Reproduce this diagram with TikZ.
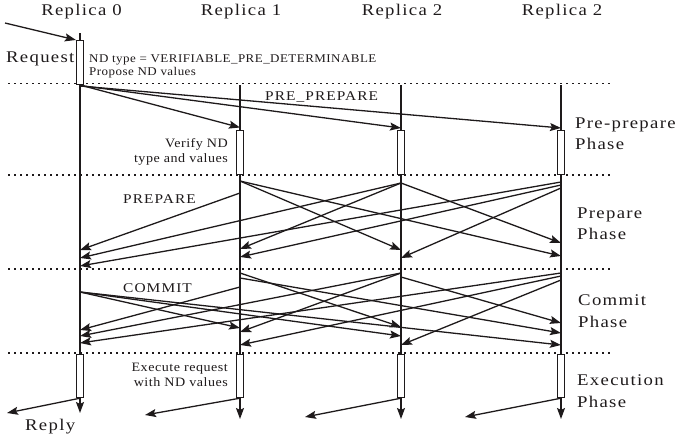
\documentclass[tikz,border=0pt]{standalone}
\usepackage{fontspec}
\setmainfont{Liberation Serif}
\newfontfamily\bigfont[LetterSpace=8,FakeStretch=1.15]{Liberation Serif}
\newfontfamily\notefont[LetterSpace=4,FakeStretch=1.1]{Liberation Serif}
\usetikzlibrary{arrows.meta}
\definecolor{ink}{RGB}{30,26,27}
\newcommand\msgline[4]{\draw[msg] (#1 |- 0,#2) -- (#3 |- 0,#4);}
\begin{document}
\begin{tikzpicture}[x=1pt,y=-1pt,
  life/.style={line width=1.3pt, draw=ink},
  msg/.style={line width=1.3pt, draw=ink, -{Stealth[length=11pt,width=8pt,inset=2pt]}},
  actbox/.style={draw=ink, fill=white, line width=1.2pt, minimum width=7pt, minimum height=43.5pt, inner sep=0pt, anchor=north},
  phasesep/.style={line width=1.5pt, dash pattern=on 1.5pt off 4.5pt, draw=ink},
  biglbl/.style={font=\bigfont\fontsize{16.3}{19}\selectfont, inner sep=0pt, text=ink},
  midlbl/.style={font=\bigfont\fontsize{13.4}{16}\selectfont, inner sep=0pt, text=ink},
  notelbl/.style={font=\notefont\fontsize{11.8}{14}\selectfont, inner sep=0pt, text=ink},
  sidelbl/.style={font=\notefont\fontsize{12.8}{15}\selectfont, inner sep=0pt, text=ink}
]
\useasboundingbox (0,0) rectangle (675,439);

% lifeline x positions
\coordinate (L0) at (80,0);
\coordinate (L1) at (240,0);
\coordinate (L2) at (401,0);
\coordinate (L3) at (561,0);

% phase separators
\coordinate (s1a) at (8,83.5);  \coordinate (s1b) at (612,83.5);
\coordinate (s2a) at (8,175);   \coordinate (s2b) at (612,175);
\coordinate (s3a) at (8,269);   \coordinate (s3b) at (612,269);
\coordinate (s4a) at (8,353);   \coordinate (s4b) at (612,353);
\draw[phasesep] (s1a) -- (s1b);
\draw[phasesep] (s2a) -- (s2b);
\draw[phasesep] (s3a) -- (s3b);
\draw[phasesep] (s4a) -- (s4b);

% headers
\node[biglbl, anchor=base] (h0) at (81.5,16) {Replica 0};
\node[biglbl, anchor=base] (h1) at (241,16) {Replica 1};
\node[biglbl, anchor=base] (h2) at (402,16) {Replica 2};
\node[biglbl, anchor=base] (h3) at (562,16) {Replica 2};

% lifeline tops and ends
\coordinate (t0) at (80,33);
\coordinate (t1) at (240,85);
\coordinate (t2) at (401,85);
\coordinate (t3) at (561,85);
\coordinate (end0) at (80,413);
\coordinate (end1) at (240,419);
\coordinate (end2) at (401,419);
\coordinate (end3) at (561,419);

% activity boxes
\node[actbox] (b0) at (80,40) {};
\node[actbox] (b1) at (240,130) {};
\node[actbox] (b2) at (401,130) {};
\node[actbox] (b3) at (561,130) {};
\node[actbox] (e0) at (80,353.5) {};
\node[actbox] (e1) at (240,353.5) {};
\node[actbox] (e2) at (401,353.5) {};
\node[actbox] (e3) at (561,353.5) {};

% lifelines
\draw[life] (t0) -- (b0.north);
\draw[life] (b0.south) -- (e0.north);
\draw[life] (t1) -- (b1.north);
\draw[life] (b1.south) -- (e1.north);
\draw[life] (t2) -- (b2.north);
\draw[life] (b2.south) -- (e2.north);
\draw[life] (t3) -- (b3.north);
\draw[life] (b3.south) -- (e3.north);
\draw[msg] (e0.south) -- (end0);
\draw[msg] (e1.south) -- (end1);
\draw[msg] (e2.south) -- (end2);
\draw[msg] (e3.south) -- (end3);

% request
\coordinate (req) at (5,23);
\draw[msg] (req) -- (b0.north west);
\node[biglbl, anchor=base west] (reqlbl) at (6,62) {Request};
\node[notelbl, anchor=base west] (nd1) at (89,62) {ND type = VERIFIABLE\_PRE\_DETERMINABLE};
\node[notelbl, anchor=base west] (nd2) at (89,75) {Propose ND values};

% pre-prepare
\node[midlbl, anchor=base west] (pplbl) at (265,100) {PRE\_PREPARE};
\msgline{L0}{85}{L1}{127.5}
\msgline{L0}{85.5}{L2}{128}
\msgline{L0}{86}{L3}{128}
\node[sidelbl, anchor=base east] (v1) at (228,147) {Verify ND};
\node[sidelbl, anchor=base east] (v2) at (228,162) {type and values};

% prepare
\node[midlbl, anchor=base west] (plbl) at (123,203) {PREPARE};
\msgline{L1}{193}{L0}{250}
\msgline{L1}{181}{L2}{250}
\msgline{L1}{181}{L3}{256}
\msgline{L2}{183}{L0}{258}
\msgline{L2}{183}{L1}{249}
\msgline{L2}{183}{L3}{243}
\msgline{L3}{182}{L0}{266}
\msgline{L3}{185}{L1}{257}
\msgline{L3}{188}{L2}{258}

% commit
\node[midlbl, anchor=base west] (clbl) at (123,292) {COMMIT};
\msgline{L0}{292}{L1}{328}
\msgline{L0}{292}{L2}{336}
\msgline{L0}{292}{L3}{345}
\msgline{L1}{287}{L0}{330}
\msgline{L1}{273}{L2}{327}
\msgline{L1}{278}{L3}{333}
\msgline{L2}{273}{L0}{336}
\msgline{L2}{273}{L1}{332}
\msgline{L2}{277}{L3}{323}
\msgline{L3}{273}{L0}{343}
\msgline{L3}{276}{L1}{345}
\msgline{L3}{280}{L2}{345}

% execution
\node[sidelbl, anchor=base east] (x1) at (228,371) {Execute request};
\node[sidelbl, anchor=base east] (x2) at (228,386) {with ND values};
\coordinate (r0) at (7,413);
\coordinate (r1) at (145,415);
\coordinate (r2) at (305,417);
\coordinate (r3) at (465,417);
\draw[msg] (e0.south) -- (r0);
\draw[msg] (e1.south) -- (r1);
\draw[msg] (e2.south) -- (r2);
\draw[msg] (e3.south) -- (r3);
\node[biglbl, anchor=base west] (reply) at (25,430) {Reply};

% phase labels
\node[biglbl, anchor=base west] (ph1a) at (575,128) {Pre-prepare};
\node[biglbl, anchor=base west] (ph1b) at (575,149) {Phase};
\node[biglbl, anchor=base west] (ph2a) at (577,218) {Prepare};
\node[biglbl, anchor=base west] (ph2b) at (577,239) {Phase};
\node[biglbl, anchor=base west] (ph3a) at (578,305) {Commit};
\node[biglbl, anchor=base west] (ph3b) at (578,327) {Phase};
\node[biglbl, anchor=base west] (ph4a) at (577,385) {Execution};
\node[biglbl, anchor=base west] (ph4b) at (577,407) {Phase};
\end{tikzpicture}
\end{document}
